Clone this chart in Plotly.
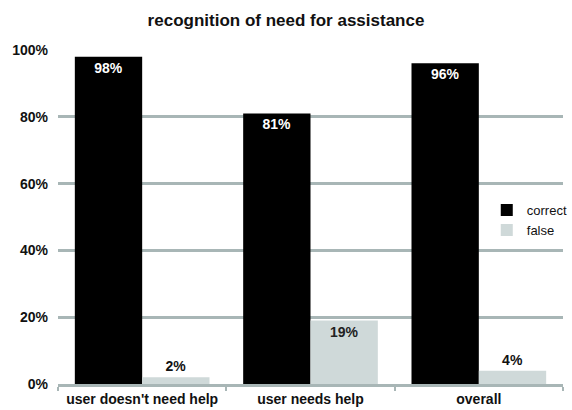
import plotly.graph_objects as go

categories = ["user doesn't need help", "user needs help", "overall"]
correct = [98, 81, 96]
false_vals = [2, 19, 4]
correct_labels = ["98%", "81%", "96%"]
false_labels = ["2%", "19%", "4%"]
y_ticks = [0, 20, 40, 60, 80, 100]
y_tick_labels = ["0%", "20%", "40%", "60%", "80%", "100%"]

grid = "#a8b6b6"
font = "Liberation Sans, Arial, sans-serif"

fig = go.Figure()
fig.add_trace(go.Bar(
    name="correct", x=categories, y=correct, text=correct_labels,
    marker=dict(color="#000000", line=dict(width=0)),
    textposition="inside", insidetextanchor="end",
    textfont=dict(color="white", size=14, family=font, weight="bold"),
    cliponaxis=False,
))
fig.add_trace(go.Bar(
    name="false", x=categories, y=false_vals, text=false_labels,
    marker=dict(color="#cfd9d9", line=dict(width=0)),
    textposition=["outside", "inside", "outside"], insidetextanchor="end",
    textfont=dict(color="#111111", size=14, family=font, weight="bold"),
    outsidetextfont=dict(color="#111111", size=14, family=font, weight="bold"),
    insidetextfont=dict(color="#222222", size=14, family=font, weight="bold"),
    cliponaxis=False,
))

fig.update_layout(
    width=572, height=410,
    margin=dict(l=58, r=9, t=50, b=26, autoexpand=False),
    paper_bgcolor="white", plot_bgcolor="white",
    barmode="group", bargap=0.2, bargroupgap=0,
    uniformtext=dict(minsize=14, mode=False),
    title=dict(text="<b>recognition of need for assistance</b>", x=0.5, xanchor="center",
               y=0.95, yanchor="middle",
               font=dict(family=font, size=17, color="#111111")),
    font=dict(family=font, size=14, color="#111111"),
    legend=dict(xref="container", yref="container", x=0.851, y=0.524,
                xanchor="left", yanchor="top",
                bgcolor="rgba(0,0,0,0)", font=dict(size=13, family=font, color="#111111"),
                itemwidth=30, tracegroupgap=0),
    showlegend=True,
)
fig.update_xaxes(
    showline=True, linecolor=grid, linewidth=2.5,
    ticks="outside", tickson="boundaries", ticklen=4, tickcolor=grid, tickwidth=1.5,
    tickfont=dict(family=font, size=14, color="#111111", weight="bold"),
    showgrid=False,
)
fig.update_yaxes(
    range=[0, 100], tickvals=y_ticks, ticktext=y_tick_labels,
    showgrid=True, gridcolor=grid, gridwidth=2.5,
    zeroline=False, showline=False, ticks="",
    ticklabelstandoff=9,
    tickfont=dict(family=font, size=14, color="#111111", weight="bold"),
)

fig.write_html("out.html", config={"displayModeBar": False},
               post_script="document.body.style.margin='0';")
